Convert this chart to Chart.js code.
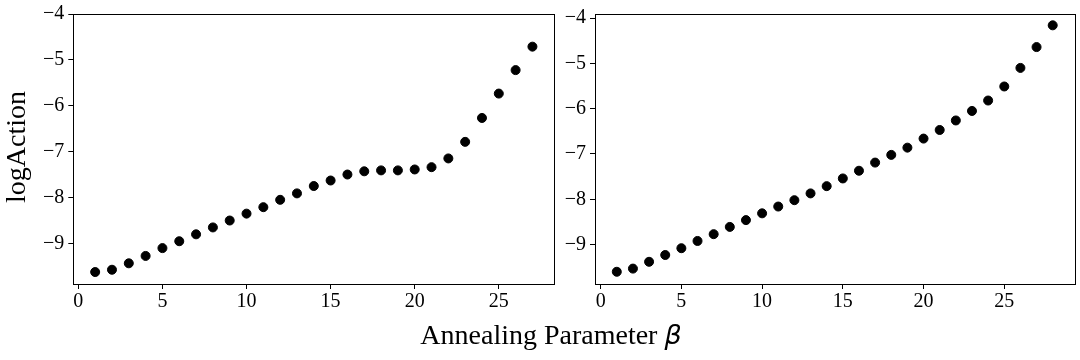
<!DOCTYPE html>
<html>
<head>
<meta charset="utf-8">
<script src="https://cdn.jsdelivr.net/npm/chart.js@4.4.4/dist/chart.umd.min.js"></script>
<style>
  body { margin: 0; width: 1080px; height: 360px; background: #fff; position: relative; overflow: hidden; font-family: 'Liberation Serif', 'Times New Roman', serif; }
  canvas { position: absolute; top: 0; }
  .ylab { position: absolute; left: -84px; top: 132px; width: 200px; text-align: center; font-size: 28px; line-height: 30px; transform: rotate(-90deg); }
  .xlab { position: absolute; left: 551px; top: 320px; transform: translateX(-50%); font-size: 28px; line-height: 30px; white-space: nowrap; }
  .xlab i { font-family: 'DejaVu Sans', sans-serif; font-size: 27px; }
</style>
</head>
<body>
<canvas id="left" width="560" height="320" style="left:0"></canvas>
<canvas id="right" width="520" height="320" style="left:560px"></canvas>
<div class="ylab">logAction</div>
<div class="xlab">Annealing Parameter <i>β</i></div>
<script>
// annealing step
const betaLeft = [1,2,3,4,5,6,7,8,9,10,11,12,13,14,15,16,17,18,19,20,21,22,23,24,25,26,27];
const betaRight = [1,2,3,4,5,6,7,8,9,10,11,12,13,14,15,16,17,18,19,20,21,22,23,24,25,26,27,28];
// log action values
const actionLeft = [-9.61,-9.56,-9.42,-9.26,-9.09,-8.94,-8.79,-8.64,-8.49,-8.34,-8.20,-8.04,-7.90,
  -7.74,-7.62,-7.49,-7.42,-7.40,-7.40,-7.38,-7.33,-7.14,-6.78,-6.26,-5.73,-5.22,-4.71];
const actionRight = [-9.60,-9.53,-9.38,-9.23,-9.08,-8.92,-8.77,-8.61,-8.46,-8.31,-8.16,-8.02,-7.87,
  -7.71,-7.54,-7.37,-7.19,-7.02,-6.86,-6.66,-6.47,-6.26,-6.05,-5.82,-5.51,-5.10,-4.64,-4.16];
const xTicks = [0, 5, 10, 15, 20, 25];
const yTicks = [-9, -8, -7, -6, -5, -4];

const fmt = v => String(v).replace('-', '\u2212');

// draw all four spines like matplotlib
const frame = {
  id: 'frame',
  afterDatasetsDraw(chart) {
    const a = chart.chartArea, ctx = chart.ctx;
    ctx.save();
    ctx.strokeStyle = '#000';
    ctx.lineWidth = 1;
    ctx.strokeRect(Math.round(a.left) + 0.5, Math.round(a.top) + 0.5, Math.round(a.right - a.left), Math.round(a.bottom - a.top));
    ctx.restore();
  }
};

function makePanel(id, xs, ys, opt) {
  const tickFont = { family: 'Liberation Serif', size: 20, lineHeight: 1 };
  return new Chart(document.getElementById(id), {
    type: 'scatter',
    data: {
      datasets: [{
        data: xs.map((x, i) => ({ x: x, y: ys[i] })),
        backgroundColor: '#000',
        borderColor: '#000',
        pointRadius: 4.5,
        pointHoverRadius: 4.5
      }]
    },
    options: {
      responsive: false,
      animation: false,
      devicePixelRatio: 1,
      layout: { padding: { left: 0, top: 11, right: opt.padRight, bottom: 0 } },
      plugins: { legend: { display: false }, tooltip: { enabled: false } },
      scales: {
        x: {
          type: 'linear', min: opt.xMin, max: opt.xMax,
          afterBuildTicks: s => { s.ticks = xTicks.map(v => ({ value: v })); },
          afterFit: s => { s.height = 36; },
          border: { display: false },
          grid: { drawOnChartArea: false, drawTicks: true, tickLength: 5, color: '#000', lineWidth: 1 },
          ticks: { color: '#000', font: tickFont, padding: 3, maxRotation: 0, callback: fmt }
        },
        y: {
          type: 'linear', min: opt.yMin, max: opt.yMax,
          afterBuildTicks: s => { s.ticks = yTicks.map(v => ({ value: v })); },
          afterFit: s => { s.width = opt.yWidth; },
          border: { display: false },
          grid: { drawOnChartArea: false, drawTicks: true, tickLength: 5, color: '#000', lineWidth: 1 },
          ticks: { color: '#000', font: tickFont, padding: 4, callback: fmt }
        }
      }
    },
    plugins: [frame]
  });
}

makePanel('left', betaLeft, actionLeft, { xMin: -0.3, xMax: 28.3, yMin: -9.87, yMax: -4, yWidth: 73.3, padRight: 5.7 });
makePanel('right', betaRight, actionRight, { xMin: -0.35, xMax: 29.35, yMin: -9.87, yMax: -3.91, yWidth: 35, padRight: 3.3 });
</script>
</body>
</html>
